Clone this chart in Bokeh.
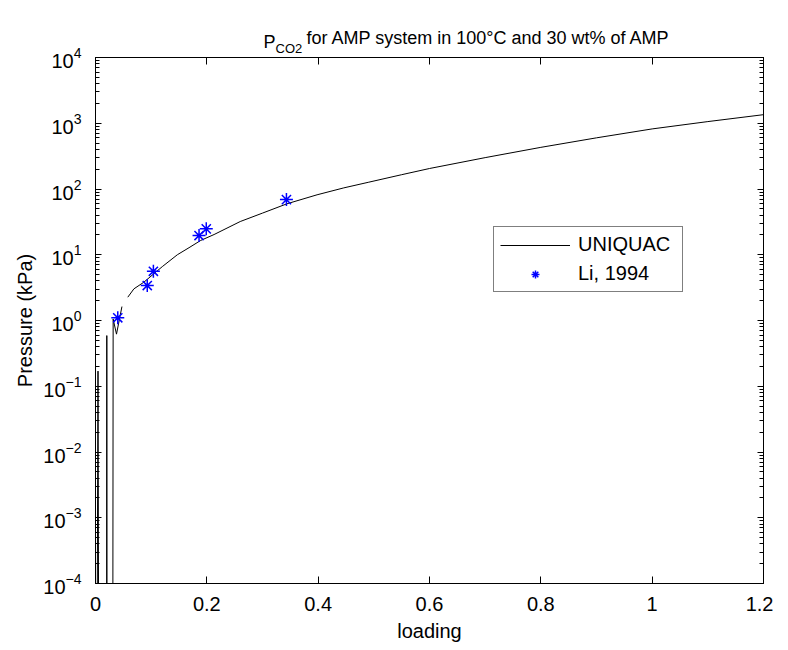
import math
from bokeh.plotting import figure
from bokeh.models import (FixedTicker, LogAxis, LinearAxis, Label, Legend, LegendItem,
                          CustomJSTickFormatter, LogTickFormatter)
from bokeh.embed import file_html
from bokeh.resources import INLINE

nan = float("nan")

# UNIQUAC model curve (loading, kPa); NaN = break in the line
curve_loading = [0.0025, 0.0045, 0.0060, 0.0200, 0.0203, 0.0206, 0.0310, 0.0317, 0.0377, 0.0475, nan,
                 0.058, 0.069, 0.087, 0.120, 0.147, 0.168, 0.189, 0.213, 0.260, 0.300, 0.344,
                 0.398, 0.446, 0.491, 0.550, 0.600, 0.700, 0.800, 0.900, 1.000, 1.100, 1.200]
curve_pressure = [1e-6, 0.17, 1e-6, 1e-6, 0.59, 1e-6, 1e-6, 1.05, 0.62, 1.63, nan,
                  2.26, 3.03, 3.83, 6.6, 10.0, 12.8, 16.5, 20.3, 32.0, 43.0, 59.6,
                  81.6, 104.0, 127.0, 165.0, 205.0, 300.0, 430.0, 600.0, 820.0, 1060.0, 1350.0]

# Li, 1994 experimental data
exp_loading = [0.040, 0.093, 0.104, 0.186, 0.199, 0.343]
exp_pressure = [1.1, 3.4, 5.6, 19.6, 24.8, 69.0]

x_ticks = [0, 0.2, 0.4, 0.6, 0.8, 1.0, 1.2]
x_tick_labels = ["0", "0.2", "0.4", "0.6", "0.8", "1", "1.2"]
y_ticks = [1e-4, 1e-3, 1e-2, 1e-1, 1e0, 1e1, 1e2, 1e3, 1e4]
y_minor = [m * 10.0 ** e for e in range(-4, 4) for m in range(2, 10)]

title_main = "P"
title_sub = "CO2"
title_rest = "for AMP system in 100°C and 30 wt% of AMP"

FONT = "Liberation Sans"

p = figure(frame_width=668, frame_height=526, x_range=(0, 1.2), y_range=(1e-4, 1e4),
           y_axis_type="log", output_backend="svg", toolbar_location=None,
           min_border_left=95, min_border_top=57, min_border_right=10, min_border_bottom=62)
p.xgrid.visible = False
p.ygrid.visible = False
p.outline_line_color = "black"
p.background_fill_color = "white"

r_line = p.line(curve_loading, curve_pressure, line_color="black", line_width=1)
r_pts = p.scatter(exp_loading, exp_pressure, marker="asterisk", size=13,
                  line_color="#0000ff", line_width=1.5)

xt = FixedTicker(ticks=x_ticks, minor_ticks=[])
yt = FixedTicker(ticks=y_ticks, minor_ticks=y_minor)

xa = p.xaxis[0]
xa.ticker = xt
xa.major_label_overrides = {t: l for t, l in zip(x_ticks, x_tick_labels)}
xa.axis_label = "loading"
ya = p.yaxis[0]
ya.ticker = yt
ya.formatter = LogTickFormatter()
ya.axis_label = "Pressure (kPa)"

top = LinearAxis(ticker=xt, formatter=CustomJSTickFormatter(code="return ''"))
right = LogAxis(ticker=yt, formatter=CustomJSTickFormatter(code="return ''"))
p.add_layout(top, "above")
p.add_layout(right, "right")

for ax in [xa, top]:
    ax.major_tick_in = 7
    ax.major_tick_out = 0
    ax.minor_tick_line_color = None
for ax in [ya, right]:
    ax.major_tick_in = 6
    ax.major_tick_out = 0
    ax.minor_tick_in = 4
    ax.minor_tick_out = 0
for ax in [xa, ya]:
    ax.major_label_text_font = FONT
    ax.major_label_text_font_size = "20px"
    ax.major_label_text_color = "black"
    ax.axis_label_text_font = FONT
    ax.axis_label_text_font_size = "20px"
    ax.axis_label_text_font_style = "normal"
    ax.axis_label_text_color = "black"
for ax in [xa, ya, top, right]:
    ax.axis_line_color = "black"
    ax.major_tick_line_color = "black"
for ax in [top, right]:
    ax.major_label_standoff = 0
    ax.major_label_text_font_size = "0px"
xa.major_label_standoff = 13
xa.axis_label_standoff = 6
ya.major_label_standoff = 14
ya.axis_label_standoff = 4

# title (with subscript) as labels in the top panel; each label gets its own row,
# so the vertical offsets compensate for the stacking
title_x = 168
for txt, dx, dy, fs in [(title_main, 0, 16, "18px"),
                        (title_sub, 12, -11, "13px"),
                        (title_rest, 43, -15, "18px")]:
    p.add_layout(Label(x=title_x + dx, y=dy, x_units="screen", y_units="screen", text=txt,
                       text_font=FONT, text_font_size=fs, text_baseline="alphabetic",
                       text_align="left", text_color="black"), "above")

legend = Legend(items=[LegendItem(label="UNIQUAC", renderers=[r_line]),
                       LegendItem(label="Li, 1994", renderers=[r_pts])],
                location=(398, 291), orientation="vertical",
                label_text_font=FONT, label_text_font_size="20px", label_text_color="black",
                glyph_width=70, glyph_height=20, label_standoff=8, label_width=98,
                padding=6, spacing=6, margin=0,
                border_line_color="black", border_line_width=1,
                background_fill_color="white", background_fill_alpha=1)
p.add_layout(legend)

open("out.html", "w").write(file_html(p, INLINE))
